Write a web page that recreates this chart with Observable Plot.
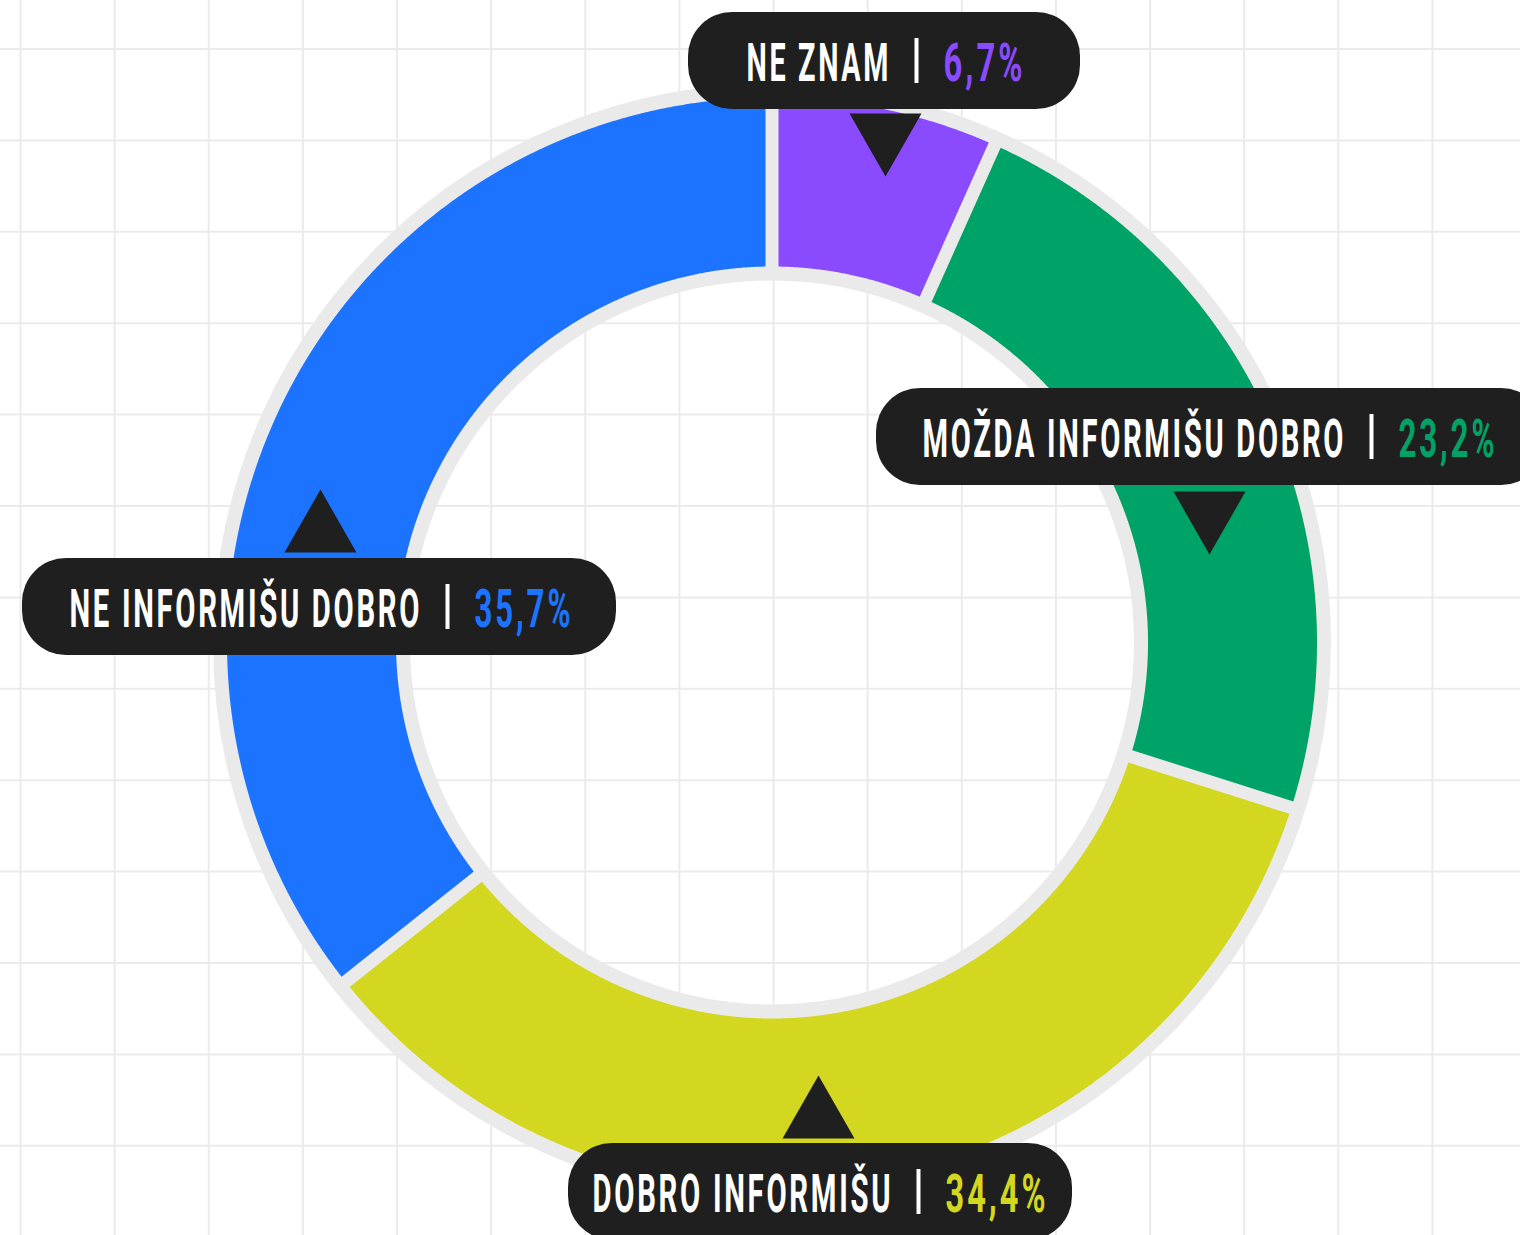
<!DOCTYPE html>
<html>
<head>
<meta charset="utf-8">
<script src="https://cdn.jsdelivr.net/npm/d3@7"></script>
<script src="https://cdn.jsdelivr.net/npm/@observablehq/plot@0.6"></script>
<style>
  html, body { margin: 0; padding: 0; background: #ffffff; }
  #chart svg { display: block; }
</style>
</head>
<body>
<div id="chart"></div>
<script>
// ---- data ----
const categories = ["NE ZNAM", "MOŽDA INFORMIŠU DOBRO", "DOBRO INFORMIŠU", "NE INFORMIŠU DOBRO"];
const values = [6.7, 23.2, 34.4, 35.7];
const valueLabels = ["6,7%", "23,2%", "34,4%", "35,7%"];
const colors = ["#8A4BFF", "#00A367", "#D4D720", "#1B73FF"];

// ---- layout (pixels) ----
const W = 1520, H = 1235;
const CX = 771.5, CY = 642;
const R_RING_OUT = 559, R_RING_IN = 362;
const R_OUT = 545, R_IN = 376, GAP = 13;
const GRID_X0 = 20, GRID_DX = 94.13, GRID_Y0 = 48.5, GRID_DY = 91.4;
const PILL_H = 97, PILL_R = 44;
const pillX1 = [688, 876, 568, 22];
const pillX2 = [1080, 1545, 1072, 616];
const pillY1 = [12, 388, 1143, 558];
const pipeX = [916, 1371, 918, 447];
const triX = [885, 1209, 818, 320];
const triBase = [113, 491, 1138, 552];
const triDir = [1, 1, -1, -1]; // 1 = pointing down, -1 = pointing up
const TRI_W = 72, TRI_H = 63;
const labelWidths = [142, 421, 298, 350];
const valueWidths = [79, 96, 100, 96];
const DARK = "#1f1f1f";
const FONT = "Roboto, 'Open Sans', sans-serif";
const LETTER_SPACING = 5;

// ---- build geometry from values ----
const pie = d3.pie().sort(null).value(d => d)(values);
function polar(r, a) { return {x: CX + r * Math.sin(a), y: CY - r * Math.cos(a)}; }
function slicePoints(s) {
  const ao = Math.asin(GAP / 2 / R_OUT), ai = Math.asin(GAP / 2 / R_IN);
  const pts = [];
  const a0o = s.startAngle + ao, a1o = s.endAngle - ao;
  const no = Math.max(8, Math.ceil((a1o - a0o) / 0.003));
  for (let k = 0; k <= no; k++) pts.push(polar(R_OUT, a0o + (a1o - a0o) * k / no));
  const a0i = s.startAngle + ai, a1i = s.endAngle - ai;
  const ni = Math.max(8, Math.ceil((a1i - a0i) / 0.003));
  for (let k = ni; k >= 0; k--) pts.push(polar(R_IN, a0i + (a1i - a0i) * k / ni));
  return pts;
}

const labels = categories.map((c, i) => ({
  name: c, value: valueLabels[i], color: colors[i],
  x1: pillX1[i], x2: pillX2[i], y1: pillY1[i], y2: pillY1[i] + PILL_H,
  pipe: pipeX[i], base: pillY1[i] + 68
}));

function triPoints(i) {
  const x = triX[i], b = triBase[i], d = triDir[i];
  return [{x: x - TRI_W / 2, y: b}, {x: x + TRI_W / 2, y: b}, {x: x, y: b + d * TRI_H}];
}

const gridX = d3.range(GRID_X0, W + 1, GRID_DX);
const gridY = d3.range(GRID_Y0, H + 1, GRID_DY);

const chart = Plot.plot({
  width: W, height: H,
  margin: 0,
  x: {domain: [0, W], range: [0, W], axis: null},
  y: {domain: [0, H], range: [0, H], axis: null},
  color: {type: "identity"},
  style: {background: "#ffffff"},
  marks: [
    Plot.ruleX(gridX, {stroke: "#ebebeb", strokeWidth: 2}),
    Plot.ruleY(gridY, {stroke: "#ebebeb", strokeWidth: 2}),
    Plot.dot([{x: CX, y: CY}], {x: "x", y: "y", r: (R_RING_OUT + R_RING_IN) / 2, fill: "none",
      stroke: "#eaeaea", strokeWidth: R_RING_OUT - R_RING_IN}),
    ...pie.map((s, i) => Plot.line(slicePoints(s), {x: "x", y: "y", fill: colors[i], stroke: "none", curve: "linear-closed"})),
    ...categories.map((c, i) => Plot.line(triPoints(i), {x: "x", y: "y", fill: DARK, stroke: "none", curve: "linear-closed"})),
    Plot.rect(labels, {x1: "x1", x2: "x2", y1: "y1", y2: "y2", rx: PILL_R, ry: PILL_R, fill: DARK}),
    Plot.ruleX(labels, {x: "pipe", y1: d => d.base - 42, y2: d => d.base + 3, stroke: "#ffffff", strokeWidth: 4}),
    Plot.text(labels, {x: d => d.pipe - 28, y: "base", text: "name", textAnchor: "start", lineAnchor: "bottom",
      fill: "#ffffff", fontSize: 54, fontWeight: 700, fontFamily: FONT}),
    Plot.text(labels, {x: d => d.pipe + 27, y: "base", text: "value", textAnchor: "start", lineAnchor: "bottom",
      fill: "color", fontSize: 54, fontWeight: 700, fontFamily: FONT})
  ]
});

document.getElementById("chart").appendChild(chart);

// condense the label texts horizontally to the reference widths
const texts = chart.querySelectorAll("text");
const targets = labelWidths.concat(valueWidths);
texts.forEach((t, i) => {
  const target = targets[i];
  if (target == null) return;
  t.style.letterSpacing = LETTER_SPACING + "px";
  const natural = t.getComputedTextLength() - LETTER_SPACING;
  const f = target / natural;
  // anchor position from Plot (attributes or translate transform)
  let X = +(t.getAttribute("x") || 0), Y = +(t.getAttribute("y") || 0);
  const tr = t.getAttribute("transform");
  if (tr) {
    const m = /translate\(\s*([-\d.e]+)[ ,]+([-\d.e]+)\s*\)/.exec(tr);
    if (m) { X += +m[1]; Y += +m[2]; }
  }
  t.removeAttribute("x"); t.removeAttribute("y");
  // label names end at the anchor (right-aligned); values start at it
  const left = i < labelWidths.length ? X - target : X;
  t.setAttribute("transform", `translate(${left},${Y}) scale(${f},1)`);
});
</script>
</body>
</html>
